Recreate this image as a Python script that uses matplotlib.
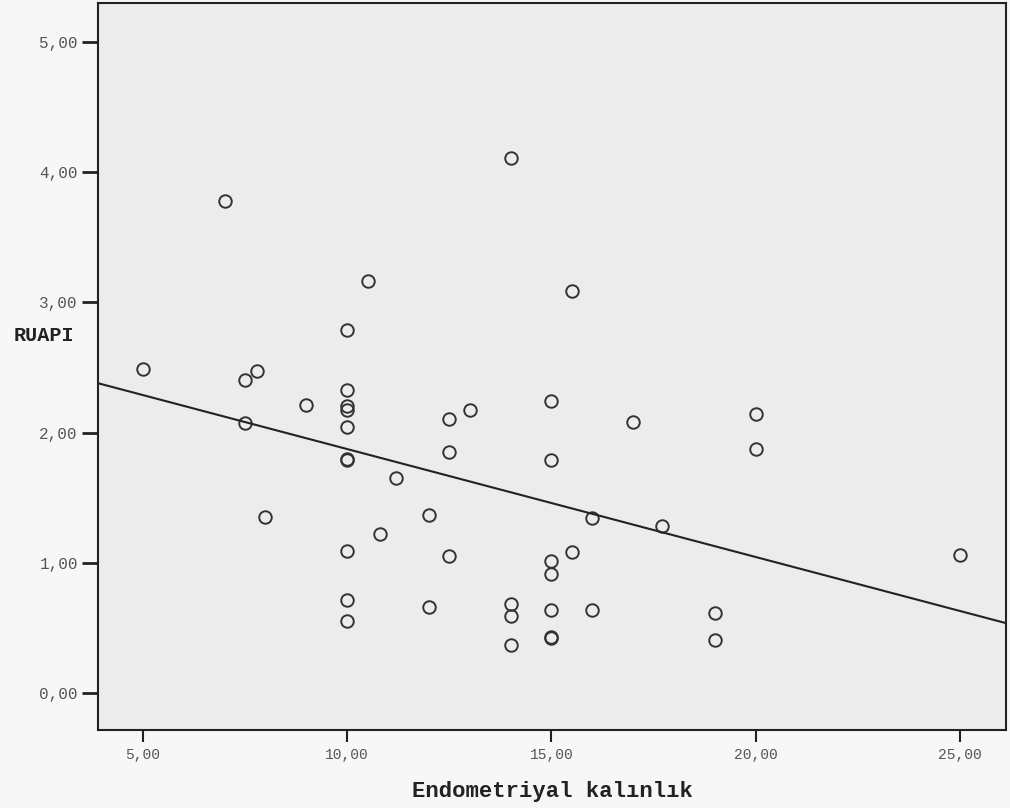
import numpy as np
import matplotlib
matplotlib.use("Agg")
import matplotlib.pyplot as plt

# Data
endometriyal = [5, 7, 7.5, 7.8, 7.5, 8, 9,
                10, 10, 10, 10, 10, 10, 10, 10, 10, 10,
                10.5, 10.8, 11.2, 12, 12, 12.5, 12.5, 12.5, 13,
                14, 14, 14, 14,
                15, 15, 15, 15, 15, 15, 15,
                15.5, 15.5, 16, 16, 17, 17.7, 19, 19, 20, 20, 25]
ruapi = [2.49, 3.78, 2.40, 2.47, 2.07, 1.35, 2.21,
         2.79, 2.33, 2.20, 2.17, 2.04, 1.80, 1.79, 1.09, 0.71, 0.55,
         3.16, 1.22, 1.65, 1.37, 0.66, 2.10, 1.85, 1.05, 2.17,
         4.11, 0.68, 0.59, 0.37,
         2.24, 1.79, 1.01, 0.91, 0.64, 0.43, 0.42,
         3.09, 1.08, 1.34, 0.64, 2.08, 1.28, 0.61, 0.41, 2.14, 1.87, 1.06]

x_ticks = [5, 10, 15, 20, 25]
x_tick_labels = ["5,00", "10,00", "15,00", "20,00", "25,00"]
y_ticks = [0, 1, 2, 3, 4, 5]
y_tick_labels = ["0,00", "1,00", "2,00", "3,00", "4,00", "5,00"]

fig = plt.figure(figsize=(10.1, 8.08), dpi=100, facecolor="#f7f7f7")
ax = fig.add_axes([0.097, 0.0965, 0.899, 0.9])
ax.set_facecolor("#ececec")

ax.plot(endometriyal, ruapi, linestyle="none", marker="o", markersize=9,
        markerfacecolor="none", markeredgecolor="#333333", markeredgewidth=1.4)

xlim = (3.9, 26.13)
coef = np.polyfit(endometriyal, ruapi, 1)
xs = np.array(xlim)
ax.plot(xs, np.polyval(coef, xs), color="#222222", linewidth=1.5)

ax.set_xlim(*xlim)
ax.set_ylim(-0.285, 5.30)

ax.set_xticks(x_ticks)
ax.set_xticklabels(x_tick_labels, family="Liberation Mono", fontsize=10.5, color="#555555")
ax.set_yticks(y_ticks)
ax.set_yticklabels(y_tick_labels, family="Liberation Mono", fontsize=11.5, color="#555555")
ax.tick_params(axis="y", length=11.5, width=2, color="#222222", pad=3)
ax.tick_params(axis="x", length=8.6, width=1.5, color="#222222", pad=4)
for s in ax.spines.values():
    s.set_linewidth(1.5)
    s.set_color("#222222")

ax.set_xlabel("Endometriyal kalınlık", family="Liberation Mono", fontsize=16,
              fontweight="bold", color="#222222", labelpad=14)
ax.set_ylabel("RUAPI", family="Liberation Mono", fontsize=14.5, fontweight="bold",
              color="#222222", rotation=0, ha="center", va="center")
ax.yaxis.set_label_coords(-0.059, 0.543)

fig.savefig("out.png", dpi=100, facecolor=fig.get_facecolor())
